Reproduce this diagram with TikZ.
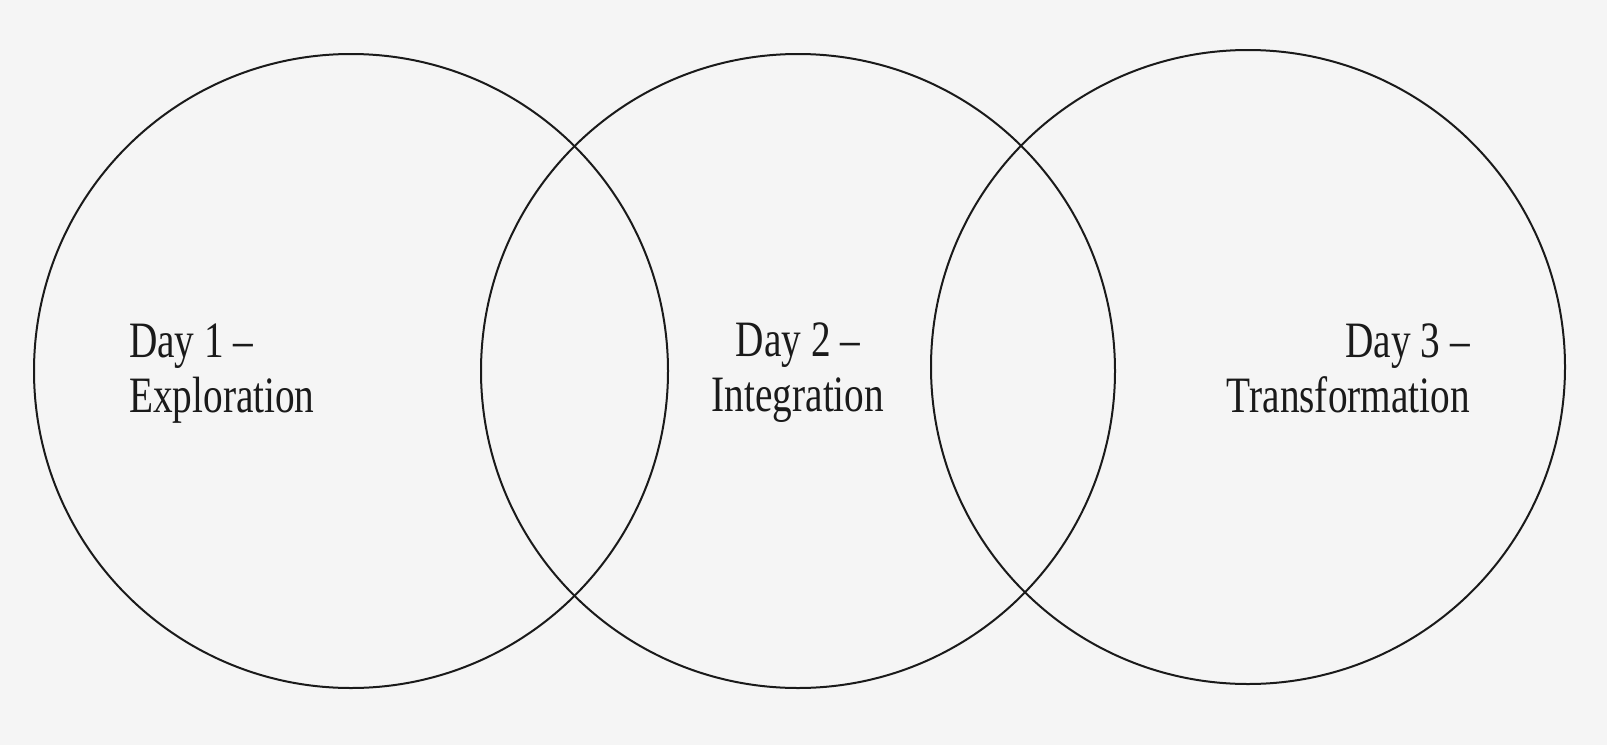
\documentclass[tikz,border=0pt]{standalone}
\usepackage{fontspec}
\setmainfont{Liberation Serif}[FakeStretch=0.77]
\definecolor{bg}{HTML}{F5F5F5}
\definecolor{ink}{HTML}{1A1A1A}
\tikzset{
  ring/.style={circle, draw=ink, line width=2pt, minimum size=634pt, inner sep=0pt},
  lbl/.style={text=ink, inner sep=0pt, font=\fontsize{51}{55}\selectfont}
}
\begin{document}
\begin{tikzpicture}[x=1pt,y=-1pt]
\fill[bg] (0,0) rectangle (1607,745);
\useasboundingbox (0,0) rectangle (1607,745);
\node[ring] (c1) at (351,371) {};
\node[ring] (c2) at (798,371) {};
\node[ring] (c3) at (1248,367) {};
\node[lbl, anchor=base west, align=left] (t1) at (129,412) {Day 1 –\\Exploration};
\node[lbl, anchor=base, align=center] (t2) at (798,411) {Day 2 –\\Integration};
\node[lbl, anchor=base east, align=right] (t3) at (1470,412) {Day 3 –\\Transformation};
\end{tikzpicture}
\end{document}
